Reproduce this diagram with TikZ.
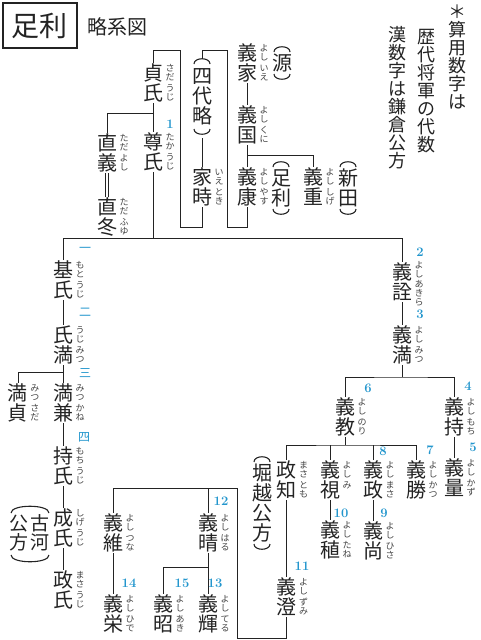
\documentclass[tikz,border=0pt]{standalone}
\usepackage{fontspec}
\newfontfamily\jp{Noto Sans CJK JP}
\definecolor{numblue}{RGB}{35,150,205}
\definecolor{ink}{RGB}{35,35,35}
\makeatletter
\newcommand\vt[1]{\vbox{\offinterlineskip\@tfor\vt@c:=#1\do{\hbox to 1em{\hss\vrule height .88em depth .12em width 0pt\vt@c\hss}}}}
\makeatother
\tikzset{
 nm/.style={font=\jp\fontsize{20}{20}\selectfont, inner sep=0pt, outer sep=0pt, anchor=north, text=ink},
 notecol/.style={nm, font=\jp\fontsize{18}{18}\selectfont},
 rb/.style={font=\jp\fontsize{9}{9}\selectfont, inner sep=0pt, text=ink!85},
 num/.style={font=\fontsize{13}{13}\selectfont\bfseries, inner sep=0pt, text=numblue},
 knum/.style={font=\jp\fontsize{12}{12}\selectfont, inner sep=0pt, text=numblue},
 conn/.style={line width=1pt, draw=ink},
 parenline/.style={line width=1.1pt, draw=ink},
}
\newcommand\person[6]{%
  \node[nm] (#1) at (#2,#3) {\vt{#4}};
  \node[rb] (#1-r1) at (#2+17,#3+10) {\vt{#5}};
  \node[rb] (#1-r2) at (#2+17,#3+30) {\vt{#6}};
}
\newcommand\ptop[2]{\draw[parenline] (#1-8,#2+7) .. controls (#1-8,#2) and (#1+8,#2) .. (#1+8,#2+7);}
\newcommand\pbot[2]{\draw[parenline] (#1-8,#2-7) .. controls (#1-8,#2) and (#1+8,#2) .. (#1+8,#2-7);}
\begin{document}
\begin{tikzpicture}[x=1pt,y=-1pt]
\useasboundingbox (0,0) rectangle (480,640);
% title
\node[draw=ink, line width=1.4pt, minimum width=74pt, minimum height=45pt, inner sep=0pt, font=\jp\fontsize{28}{28}\selectfont, text=ink] (title) at (40,25.5) {足利};
\node[font=\jp\fontsize{20}{20}\selectfont, inner sep=0pt, text=ink] (sub) at (117,27) {略系図};
% note
\node[notecol] (note1) at (457,3) {\vt{＊算用数字は}};
\node[notecol] (note2) at (426,28) {\vt{歴代将軍の代数}};
\node[notecol] (note3) at (397,26) {\vt{漢数字は鎌倉公方}};
% persons
\person{sadauji}{153}{63}{貞氏}{さだ}{うじ}
\person{takauji}{153}{132}{尊氏}{たか}{うじ}
\person{tadayoshi}{107}{133}{直義}{ただ}{よし}
\person{tadafuyu}{107}{197}{直冬}{ただ}{ふゆ}
\person{ietoki}{202}{167}{家時}{いえ}{とき}
\person{yoshiie}{247}{43}{義家}{よし}{いえ}
\person{yoshikuni}{247}{105}{義国}{よし}{くに}
\person{yoshiyasu}{247}{167}{義康}{よし}{やす}
\person{yoshishige}{313}{167}{義重}{よし}{しげ}
\person{motouji}{63}{260}{基氏}{もと}{うじ}
\person{ujimitsu}{63}{325}{氏満}{うじ}{みつ}
\person{mitsukane}{63}{383}{満兼}{みつ}{かね}
\person{mitsusada}{18}{383}{満貞}{みつ}{さだ}
\person{mochiuji}{63}{446}{持氏}{もち}{うじ}
\person{shigeuji}{63}{508}{成氏}{しげ}{うじ}
\person{masauji}{63}{570}{政氏}{まさ}{うじ}
\node[nm] (yoshiakira) at (402,262) {\vt{義詮}};
\node[rb] (yoshiakira-r1) at (419,270) {\vt{よし}};
\node[rb] (yoshiakira-r2) at (419,293) {\vt{あきら}};
\person{yoshimitsu}{402}{325}{義満}{よし}{みつ}
\person{yoshinori}{345}{397}{義教}{よし}{のり}
\person{yoshimochi}{454}{397}{義持}{よし}{もち}
\person{yoshikazu}{454}{458}{義量}{よし}{かず}
\person{masatomo}{286.5}{460}{政知}{まさ}{とも}
\node[nm] (yoshimi) at (330,460) {\vt{義視}};
\node[rb] (yoshimi-r1) at (347,470) {\vt{よし}};
\node[rb] (yoshimi-r2) at (347,485) {\vt{み}};
\person{yoshimasa}{373}{460}{義政}{よし}{まさ}
\person{yoshikatsu}{416}{460}{義勝}{よし}{かつ}
\person{yoshitane}{330}{520}{義稙}{よし}{たね}
\person{yoshihisa}{373}{521}{義尚}{よし}{ひさ}
\person{yoshizumi}{286.5}{577}{義澄}{よし}{ずみ}
\person{yoshitsuna}{113}{513}{義維}{よし}{つな}
\person{yoshiharu}{208}{513}{義晴}{よし}{はる}
\person{yoshihide}{113}{594}{義栄}{よし}{ひで}
\person{yoshiaki}{163}{594}{義昭}{よし}{あき}
\person{yoshiteru}{208}{594}{義輝}{よし}{てる}
% parenthesised groups
\node[nm] (gen) at (282,53) {\vt{源}}; \ptop{282}{45} \pbot{282}{81}
\node[nm] (ashikaga) at (281,168) {\vt{足利}}; \ptop{281}{160} \pbot{281}{216}
\node[nm] (nitta) at (348,168) {\vt{新田}}; \ptop{348}{160} \pbot{348}{216}
\node[nm] (yondai) at (202,66) {\vt{四代略}}; \ptop{202}{57} \pbot{202}{136}
\node[nm] (horigoe) at (262,463) {\vt{堀越公方}}; \ptop{262}{455} \pbot{262}{551}
\node[nm, font=\jp\fontsize{19}{19}\selectfont] (koga1) at (40,514) {\vt{古河}};
\node[nm, font=\jp\fontsize{19}{19}\selectfont] (koga2) at (19,514) {\vt{公方}};
\draw[parenline] (11,513) .. controls (11,504) and (49,504) .. (49,513);
\draw[parenline] (11,555) .. controls (11,564) and (49,564) .. (49,555);
% numbers
\node[num] at (170,124) {1};
\node[num] at (420,252) {2};
\node[num] at (420,314) {3};
\node[num] at (468,386) {4};
\node[num] at (473,447) {5};
\node[num] at (368,388) {6};
\node[num] at (430,450) {7};
\node[num] at (383,451) {8};
\node[num] at (384,513) {9};
\node[num] at (341,513) {10};
\node[num] at (302,566) {11};
\node[num] at (221,501) {12};
\node[num] at (215,583) {13};
\node[num] at (129,583) {14};
\node[num] at (182,583) {15};
\node[knum] at (85,250) {一};
\node[knum] at (85,312) {二};
\node[knum] at (85,373) {三};
\node[knum] at (84,437) {四};
% junction coordinates
\coordinate (ydtop) at (202,59);
\coordinate (ydbot) at (202,138);
\coordinate (kuniJ) at (247,155);
\coordinate (sadaJ) at (153,113);
\coordinate (takaJ) at (153,238);
\coordinate (L) at (63,238);
\coordinate (R) at (402,238);
\coordinate (mitsuJ) at (63,372);
\coordinate (mJ) at (402,377);
\coordinate (nJ) at (345,445);
\coordinate (hJ) at (237,488);
\coordinate (hrJ) at (208,567);
% connectors top
\draw[conn] (yoshiie.south) -- (yoshikuni.north);
\draw[conn] (yoshikuni.south) -- (yoshiyasu.north);
\draw[conn] (kuniJ) -| (yoshishige.north);
\draw[conn] (yoshiyasu.south) |- (227,227) |- (202,50) -- (ydtop);
\draw[conn] (ydbot) -- (ietoki.north);
\draw[conn] (ietoki.south) |- (180,227) |- (153,50) -- (sadauji.north);
\draw[conn] (sadauji.south) -- (takauji.north);
\draw[conn] (sadaJ) -| (tadayoshi.north);
\draw[ink, line width=0.9pt, double=white, double distance=1.6pt] (tadayoshi.south) -- (tadafuyu.north);
\draw[conn] (takauji.south) -- (takaJ);
\draw[conn] (motouji.north) -- (L) -- (R) -- (yoshiakira.north);
% left lineage
\draw[conn] (motouji.south) -- (ujimitsu.north);
\draw[conn] (ujimitsu.south) -- (mitsukane.north);
\draw[conn] (mitsuJ) -| (mitsusada.north);
\draw[conn] (mitsukane.south) -- (mochiuji.north);
\draw[conn] (mochiuji.south) -- (shigeuji.north);
\draw[conn] (shigeuji.south) -- (masauji.north);
% right lineage
\draw[conn] (yoshiakira.south) -- (yoshimitsu.north);
\draw[conn] (yoshimitsu.south) -- (mJ);
\draw[conn] (yoshinori.north) |- (mJ) -| (yoshimochi.north);
\draw[conn] (yoshimochi.south) -- (yoshikazu.north);
\draw[conn] (yoshinori.south) -- (nJ);
\draw[conn] (masatomo.north) |- (nJ) -| (yoshikatsu.north);
\draw[conn] (yoshimi.north) -- (yoshimi.north |- nJ);
\draw[conn] (yoshimasa.north) -- (yoshimasa.north |- nJ);
\draw[conn] (yoshimi.south) -- (yoshitane.north);
\draw[conn] (yoshimasa.south) -- (yoshihisa.north);
\draw[conn] (masatomo.south) -- (yoshizumi.north);
% bottom
\draw[conn] (yoshizumi.south) |- (237,638) -- (hJ) -| (yoshitsuna.north);
\draw[conn] (yoshiharu.north) -- (yoshiharu.north |- hJ);
\draw[conn] (yoshitsuna.south) -- (yoshihide.north);
\draw[conn] (yoshiharu.south) -- (yoshiteru.north);
\draw[conn] (hrJ) -| (yoshiaki.north);
\end{tikzpicture}
\end{document}
